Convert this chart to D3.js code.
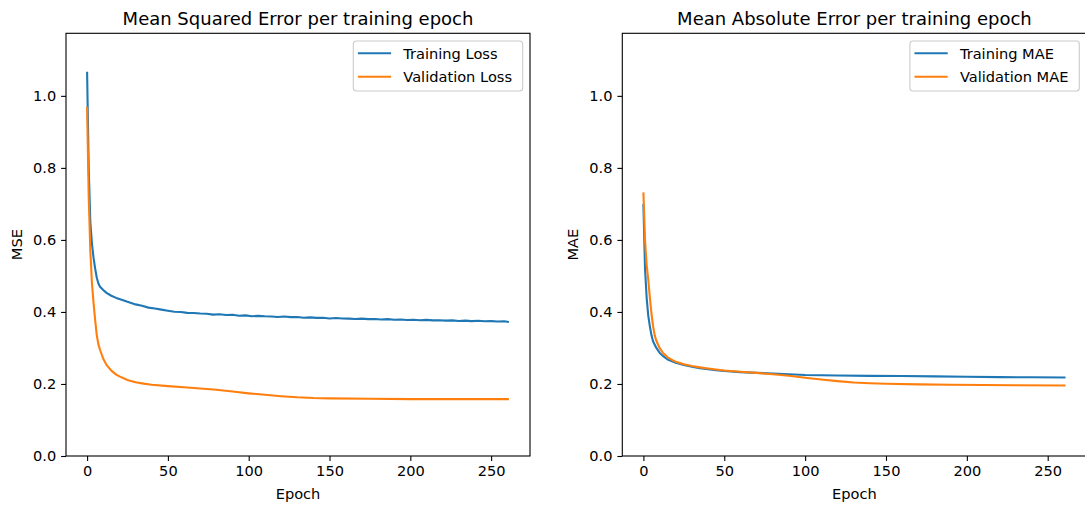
<!DOCTYPE html>
<html>
<head>
<meta charset="utf-8">
<script src="https://cdn.jsdelivr.net/npm/d3@7"></script>
<style>
	body { margin: 0; background: #fff; }
	svg { display: block; font-family: 'DejaVu Sans', sans-serif; }
</style>
</head>
<body>
<div id="canvas"></div>
<script>
// values (epoch, value)
const mseTrainEpochs = [0, 1, 2, 3, 4, 5, 6, 7, 8, 10, 12, 15, 18, 20, 25, 30, 34, 38, 42, 46, 50, 54, 58, 62, 66, 70, 74, 78, 82, 86, 90, 94, 98, 102, 106, 110, 114, 118, 122, 126, 130, 134, 138, 142, 146, 150, 154, 158, 162, 166, 170, 174, 178, 182, 186, 190, 194, 198, 202, 206, 210, 214, 218, 222, 226, 230, 234, 238, 242, 246, 250, 254, 258, 261];
const mseTrain = [1.067, 0.80, 0.65, 0.59, 0.55, 0.52, 0.495, 0.479, 0.470, 0.461, 0.453, 0.445, 0.439, 0.436, 0.428, 0.421, 0.417, 0.412, 0.4095, 0.4065, 0.4035, 0.4005, 0.400, 0.3975, 0.397, 0.3955, 0.395, 0.3925, 0.3935, 0.3915, 0.392, 0.3895, 0.3905, 0.388, 0.389, 0.388, 0.3875, 0.386, 0.3875, 0.3855, 0.386, 0.384, 0.385, 0.3835, 0.384, 0.382, 0.383, 0.382, 0.3815, 0.3805, 0.3815, 0.380, 0.3805, 0.379, 0.380, 0.3785, 0.379, 0.3775, 0.3785, 0.377, 0.378, 0.3765, 0.377, 0.376, 0.3765, 0.375, 0.376, 0.3745, 0.3755, 0.374, 0.3745, 0.3735, 0.374, 0.372];

const mseValEpochs = [0, 1, 2, 3, 4, 5, 6, 7, 8, 10, 12, 15, 18, 20, 25, 30, 35, 40, 50, 60, 70, 80, 90, 100, 110, 120, 130, 140, 150, 175, 200, 230, 261];
const mseVal = [0.970, 0.72, 0.57, 0.48, 0.425, 0.377, 0.335, 0.310, 0.295, 0.270, 0.253, 0.237, 0.226, 0.221, 0.211, 0.205, 0.201, 0.198, 0.194, 0.191, 0.1875, 0.184, 0.179, 0.174, 0.170, 0.166, 0.163, 0.161, 0.160, 0.159, 0.158, 0.158, 0.158];

const maeTrainEpochs = [0, 1, 2, 3, 4, 5, 6, 8, 10, 12, 15, 20, 25, 30, 35, 40, 45, 50, 60, 70, 80, 90, 100, 120, 140, 160, 180, 200, 220, 240, 261];
const maeTrain = [0.700, 0.52, 0.44, 0.39, 0.36, 0.335, 0.318, 0.300, 0.287, 0.278, 0.268, 0.259, 0.253, 0.248, 0.244, 0.241, 0.238, 0.236, 0.233, 0.2308, 0.229, 0.227, 0.225, 0.2235, 0.2225, 0.222, 0.221, 0.220, 0.219, 0.2185, 0.218];

const maeValEpochs = [0, 1, 2, 3, 4, 5, 6, 7, 8, 10, 12, 15, 18, 20, 25, 30, 35, 40, 45, 50, 60, 70, 80, 90, 100, 110, 120, 130, 140, 150, 170, 190, 210, 230, 261];
const maeVal = [0.732, 0.60, 0.53, 0.49, 0.44, 0.395, 0.36, 0.335, 0.320, 0.300, 0.287, 0.274, 0.266, 0.262, 0.255, 0.250, 0.246, 0.243, 0.240, 0.2375, 0.234, 0.2308, 0.227, 0.223, 0.2175, 0.2125, 0.208, 0.204, 0.202, 0.2005, 0.199, 0.198, 0.197, 0.1965, 0.1957];

const xTicks = [0, 50, 100, 150, 200, 250];
const yTicks = [0, 0.2, 0.4, 0.6, 0.8, 1.0];
const titles = ['Mean Squared Error per training epoch', 'Mean Absolute Error per training epoch'];
const yLabels = ['MSE', 'MAE'];
const legendLabels = [['Training Loss', 'Validation Loss'], ['Training MAE', 'Validation MAE']];
const colors = ['#1f77b4', '#ff7f0e'];

const zip = (xs, ys) => xs.map((x, i) => [x, ys[i]]);

function onLoad () {
	const W = 1085, H = 507;
	const svg = d3.select('#canvas').append('svg')
		.attr('width', W)
		.attr('height', H)
		.attr('viewBox', [0, 0, W, H]);

	svg.append('rect').attr('width', W).attr('height', H).style('fill', '#fff');

	drawPanel(svg, { x0: 66, x1: 530, series: [zip(mseTrainEpochs, mseTrain), zip(mseValEpochs, mseVal)], idx: 0 });
	drawPanel(svg, { x0: 622.3, x1: 1086.6, series: [zip(maeTrainEpochs, maeTrain), zip(maeValEpochs, maeVal)], idx: 1 });
}

function drawPanel (svg, kwargs) {
	const { x0, x1, series, idx } = kwargs;
	const y0 = 33.3, y1 = 456;
	const fs = 14.6;

	const x = d3.scaleLinear().domain([-13.05, 274.05]).range([x0, x1]);
	const y = d3.scaleLinear().domain([0, 1.1737]).range([y1, y0]);

	const g = svg.append('g').attr('class', `panel-${idx}`);

	g.append('clipPath').attr('id', `clip-${idx}`)
	.append('rect')
		.attr('x', x0).attr('y', y0)
		.attr('width', x1 - x0).attr('height', y1 - y0);

	const line = d3.line().x(d => x(d[0])).y(d => y(d[1]));

	g.append('g').attr('clip-path', `url(#clip-${idx})`)
	.selectAll('path')
	.data(series)
	.join('path')
		.attr('d', line)
		.style('fill', 'none')
		.style('stroke', (d, i) => colors[i])
		.style('stroke-width', 2.1)
		.style('stroke-linejoin', 'round');

	// axes
	const xAxis = d3.axisBottom(x).tickValues(xTicks).tickSize(4.9).tickPadding(4.9).tickFormat(d3.format('d'));
	const yAxis = d3.axisLeft(y).tickValues(yTicks).tickSize(4.9).tickPadding(4.9).tickFormat(d3.format('.1f'));

	const gx = g.append('g').attr('transform', `translate(0,${y1})`).call(xAxis);
	const gy = g.append('g').attr('transform', `translate(${x0},0)`).call(yAxis);
	[gx, gy].forEach(a => {
		a.select('.domain').remove();
		a.selectAll('line').style('stroke', '#000').style('stroke-width', 1.1);
		a.selectAll('text').style('font-family', 'DejaVu Sans').style('font-size', `${fs}px`).style('fill', '#000');
	});

	g.append('rect')
		.attr('x', x0).attr('y', y0)
		.attr('width', x1 - x0).attr('height', y1 - y0)
		.style('fill', 'none')
		.style('stroke', '#000')
		.style('stroke-width', 1.1);

	const cx = (x0 + x1) / 2;
	g.append('text')
		.attr('x', cx).attr('y', 24.5)
		.attr('text-anchor', 'middle')
		.style('font-size', '18px')
		.text(titles[idx]);

	g.append('text')
		.attr('x', cx).attr('y', 499)
		.attr('text-anchor', 'middle')
		.style('font-size', `${fs}px`)
		.text('Epoch');

	g.append('text')
		.attr('transform', `translate(${x0 - 44},${(y0 + y1) / 2})rotate(-90)`)
		.attr('text-anchor', 'middle')
		.style('font-size', `${fs}px`)
		.text(yLabels[idx]);

	// legend, upper right
	const lw = 169.4, lh = 50;
	const lg = g.append('g').attr('transform', `translate(${x1 - 7.3 - lw},41)`);
	lg.append('rect')
		.attr('width', lw).attr('height', lh)
		.attr('rx', 3)
		.style('fill', 'rgba(255,255,255,0.8)')
		.style('stroke', '#cccccc')
		.style('stroke-width', 1.1);
	const items = lg.selectAll('g.item')
	.data(legendLabels[idx])
	.join('g')
		.attr('class', 'item')
		.attr('transform', (d, i) => `translate(0,${12.3 + i * 23.4})`);
	items.append('line')
		.attr('x1', 4.6).attr('x2', 37.8)
		.style('stroke', (d, i) => colors[i])
		.style('stroke-width', 2.1);
	items.append('text')
		.attr('x', 50)
		.attr('y', 5.3)
		.style('font-size', `${fs}px`)
		.text(d => d);
}

if (document.readyState === 'loading') {
	document.addEventListener('DOMContentLoaded', onLoad);
} else {
	onLoad();
}
</script>
</body>
</html>
